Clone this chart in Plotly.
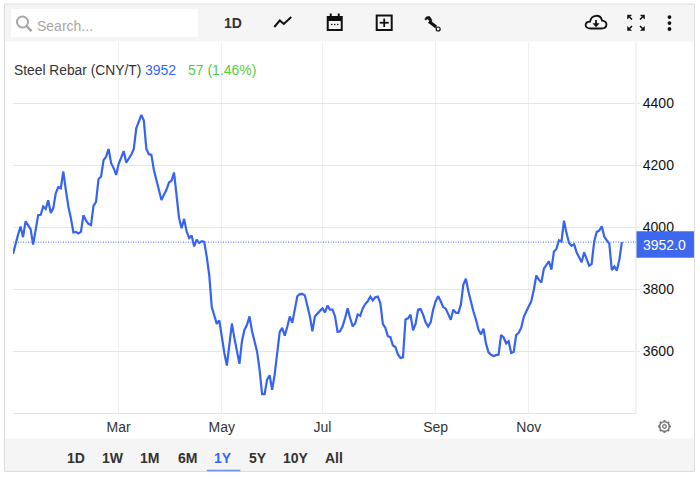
import re
import plotly.graph_objects as go

prices = [
 3914,3949,3976,4002,3968,4019,4006,3994,3944,3997,4039,4040,4067,4059,4087,4046,4062,4110,4130,4126,4180,4121,
 4067,4030,3983,3985,3980,3985,4039,4022,4011,4007,4069,4082,4156,4164,4217,4228,4253,4207,4191,4169,
 4205,4225,4246,4209,4222,4234,4253,4320,4341,4363,4345,4253,4236,4234,4185,4153,4126,4088,4105,4121,
 4145,4150,4177,4094,4030,3997,4027,3987,3965,3973,3938,3960,3949,3955,3953,3905,3845,
 3742,3718,3688,3699,3642,3594,3553,3632,3689,3642,3594,3559,3632,3669,3685,3712,3664,3626,3599,3540,
 3461,3461,3508,3522,3475,3524,3594,3661,3675,3650,3678,3712,3691,3734,3777,3784,3785,3780,3745,3712,
 3664,3712,3721,3731,3738,3725,3747,3734,3734,3712,3662,3664,3680,3707,3738,3707,3680,3689,3718,3714,
 3738,3752,3761,3776,3764,3774,3776,3755,3688,3675,3648,3645,3618,3613,3589,3578,3580,3702,3706,3718,
 3667,3688,3734,3736,
 3718,3693,3679,3693,3734,3761,3777,3761,3742,3737,3718,3701,3734,3724,3723,3750,3815,3834,3793,3755,
 3728,3702,3669,3654,3672,3624,3596,3588,3584,3587,3589,3652,3644,3625,3632,3594,3597,3652,3659,3675,
 3710,3728,3745,3761,3798,3844,3831,3821,3866,3877,3890,3863,3922,3930,3958,3954,4021,3981,3949,3940,
 3945,3919,3904,3887,3919,3897,3876,3882,3954,3985,3989,4003,3970,3958,3947,3862,3873,3860,3895,3952,
]
sessions = list(range(len(prices)))
month_labels = ["Mar", "May", "Jul", "Sep", "Nov"]
month_sessions = [42, 83, 123, 168, 205]
price_ticks = [3600, 3800, 4000, 4200, 4400]
ranges = ["1D", "1W", "1M", "6M", "1Y", "5Y", "10Y", "All"]
last_price = 3952
change_text = "57 (1.46%)"

W, H = 700, 479
L, R, T, B = 13, 636.5, 42, 413.5
BLUE = "#3563f2"
FONT = "Liberation Sans"

def px(x): return (x - L) / (R - L)
def py(y): return (B - y) / (B - T)

def svg(d):
    toks = re.findall(r"[MLCZ]|-?\d+\.?\d*", d)
    out, nums = [], []
    for t in toks:
        if t in "MLCZ":
            out.append(t)
        else:
            nums.append(float(t))
            if len(nums) == 2:
                out.append(f"{px(nums[0]):.5f},{py(nums[1]):.5f}")
                nums = []
    return " ".join(out)

shapes = []
def rect(x0, y0, x1, y1, fill="rgba(0,0,0,0)", line=None, w=1, layer="below"):
    shapes.append(dict(type="rect", xref="paper", yref="paper", x0=px(x0), x1=px(x1), y0=py(y0), y1=py(y1),
                       fillcolor=fill, line=dict(color=line or "rgba(0,0,0,0)", width=w if line else 0), layer=layer))
def path(d, color="#111", w=2, fill="rgba(0,0,0,0)"):
    shapes.append(dict(type="path", xref="paper", yref="paper", path=svg(d), fillcolor=fill,
                       line=dict(color=color, width=w), layer="above"))
def circ(cx, cy, r, fill="#111", line=None, w=0):
    shapes.append(dict(type="circle", xref="paper", yref="paper", x0=px(cx-r), x1=px(cx+r), y0=py(cy-r), y1=py(cy+r),
                       fillcolor=fill, line=dict(color=line or "rgba(0,0,0,0)", width=w), layer="above"))

# panel chrome
rect(4.5, 4, 695, 41.5, fill="#f5f5f5")
rect(4.5, 439, 695, 472, fill="#f5f5f5")
rect(4.5, 4, 695, 472, line="#dcdcdc", w=1)
rect(11, 9, 198, 37, fill="#ffffff")
shapes.append(dict(type="line", xref="paper", yref="paper", x0=px(207), x1=px(240.5), y0=py(471), y1=py(471),
                   line=dict(color="#6f8cf0", width=1.5), layer="above"))
# search icon
circ(22.5, 22, 5.5, fill="rgba(0,0,0,0)", line="#a8a8a8", w=2)
path("M 26.5 26 L 31.5 31", color="#a8a8a8", w=2.5)
# line chart icon
path("M 274.5 27 L 280 20.5 L 284 24 L 291.5 17", w=2)
# calendar icon
path("M 328 17 L 342 17 L 342 30 L 328 30 Z", w=2)
rect(328, 17, 342, 21, fill="#111", layer="above")
path("M 331 13.5 L 331 17", w=2)
path("M 339 13.5 L 339 17", w=2)
for cx in (332, 335, 338):
    circ(cx, 24.5, 0.8)
# add icon
path("M 377 15.5 L 392 15.5 L 392 30 L 377 30 Z", w=2)
path("M 384.5 18.5 L 384.5 27", w=1.8)
path("M 380 22.7 L 389 22.7", w=1.8)
# wrench icon
path("M 429.5 21.5 L 436.5 27", w=3)
path("M 430 16.5 C 426.5 16 425 18 425.5 20 L 428 19 L 430 21 L 429 23 C 431.5 23.5 432.5 21.5 432 19.5 Z", w=0.6, fill="#111")
circ(438.5, 29, 2, fill="#f5f5f5", line="#111", w=1.2)
# cloud download icon
path("M 591 28.5 C 584 28.5 585 21.5 590.5 21.5 C 592 14 601 14 602.5 20.5 C 608.5 20.5 608.5 28.5 602 28.5 Z", w=1.8)
path("M 596.5 20 L 596.5 25", w=1.8)
path("M 593.5 23.5 L 596.5 27 L 599.5 23.5 Z", w=0.5, fill="#111")
# expand icon
for sx, sy, cx, cy in ((-1, -1, 631, 18), (1, -1, 642, 18), (-1, 1, 631, 27.5), (1, 1, 642, 27.5)):
    path(f"M {cx+sx*3:.1f} {cy+sy*3:.1f} L {cx-sx*1:.1f} {cy+sy*3:.1f} L {cx+sx*3:.1f} {cy-sy*1:.1f} Z", w=0.5, fill="#111")
    path(f"M {cx+sx*1:.1f} {cy+sy*1:.1f} L {cx-sx*1.5:.1f} {cy-sy*1.5:.1f}", w=1.6)
# menu dots
for cy in (17, 23, 29):
    circ(670, cy, 1.9)
# gear icon
circ(665, 427, 4.8, fill="rgba(0,0,0,0)", line="#777777", w=1.6)
circ(665, 427, 1.8, fill="rgba(0,0,0,0)", line="#777777", w=1.3)
for a, b, c, d in ((665, 420.5, 665, 422), (665, 432, 665, 433.5), (658.5, 427, 660, 427), (670, 427, 671.5, 427),
                   (660.4, 422.4, 661.5, 423.5), (668.5, 430.5, 669.6, 431.6), (660.4, 431.6, 661.5, 430.5), (668.5, 423.5, 669.6, 422.4)):
    path(f"M {a} {b} L {c} {d}", color="#777777", w=2)
# right axis line
shapes.append(dict(type="line", xref="paper", yref="paper", x0=1, x1=1, y0=0, y1=1, line=dict(color="#e3e3e3", width=1), layer="below"))
# last-price marker
shapes.append(dict(type="line", xref="paper", yref="y", x0=0, x1=1, y0=last_price, y1=last_price,
                   line=dict(color="#3f6cf5", width=1, dash="1px,1.5px"), layer="above"))
rect(637, 231.5, 694.5, 258, fill="#3d68ee", layer="above")

annots = []
def text(s, x, y, size=14, color="#333", anchor="left", bold=False):
    annots.append(dict(text=f"<b>{s}</b>" if bold else s, xref="paper", yref="paper", x=px(x), y=py(y), xanchor=anchor, yanchor="middle",
                       showarrow=False, font=dict(family=FONT, size=size, color=color), borderpad=0, borderwidth=0))
text("Steel Rebar (CNY/T)", 14.5, 70.5, size=13.8, color="#333333")
text(str(last_price), 145.5, 70.5, color="#3366ff")
text(change_text, 188.5, 70.5, color="#55cc44")
text("Search...", 37, 26, color="#a6a6a6")
text("1D", 233, 22.5, anchor="center", bold=True, color="#333333")
text(f"{last_price}.0", 665.5, 245.5, anchor="center", color="#ffffff")
for lab, cx in zip(ranges, [76, 113, 150, 188, 223, 258, 296, 334]):
    text(lab, cx, 458.5, anchor="center", bold=True, color="#3366ff" if lab == "1Y" else "#333333")

fig = go.Figure(go.Scatter(x=sessions, y=prices, mode="lines", line=dict(color=BLUE, width=2.2), hoverinfo="skip"))
fig.update_layout(
    width=W, height=H, autosize=False, showlegend=False,
    margin=dict(l=L, r=W - R, t=T, b=H - B, pad=0),
    paper_bgcolor="#ffffff", plot_bgcolor="#ffffff",
    font=dict(family=FONT, size=14, color="#333333"),
    shapes=shapes, annotations=annots,
    xaxis=dict(range=[0, (R - L) / 2.518], tickmode="array", tickvals=month_sessions, ticktext=month_labels,
               showgrid=True, gridcolor="#f0f0f0", gridwidth=1, zeroline=False, showline=True, linecolor="#e3e3e3",
               ticks="", tickfont=dict(size=14, color="#333333"), ticklabelstandoff=1),
    yaxis=dict(side="right", range=[4400 - (B - 103.5) * 200 / 62, 4400 + (103.5 - T) * 200 / 62], tickmode="array",
               tickvals=price_ticks, ticktext=[str(v) for v in price_ticks], showgrid=True, gridcolor="#e6e6e6",
               gridwidth=1, zeroline=False, showline=False, ticks="outside", ticklen=3, tickcolor="#e6e6e6",
               tickfont=dict(size=14, color="#111111")),
)
fig.write_html("out.html", config=dict(displayModeBar=False),
               post_script="document.body.style.margin='0';document.body.style.overflow='hidden';")
